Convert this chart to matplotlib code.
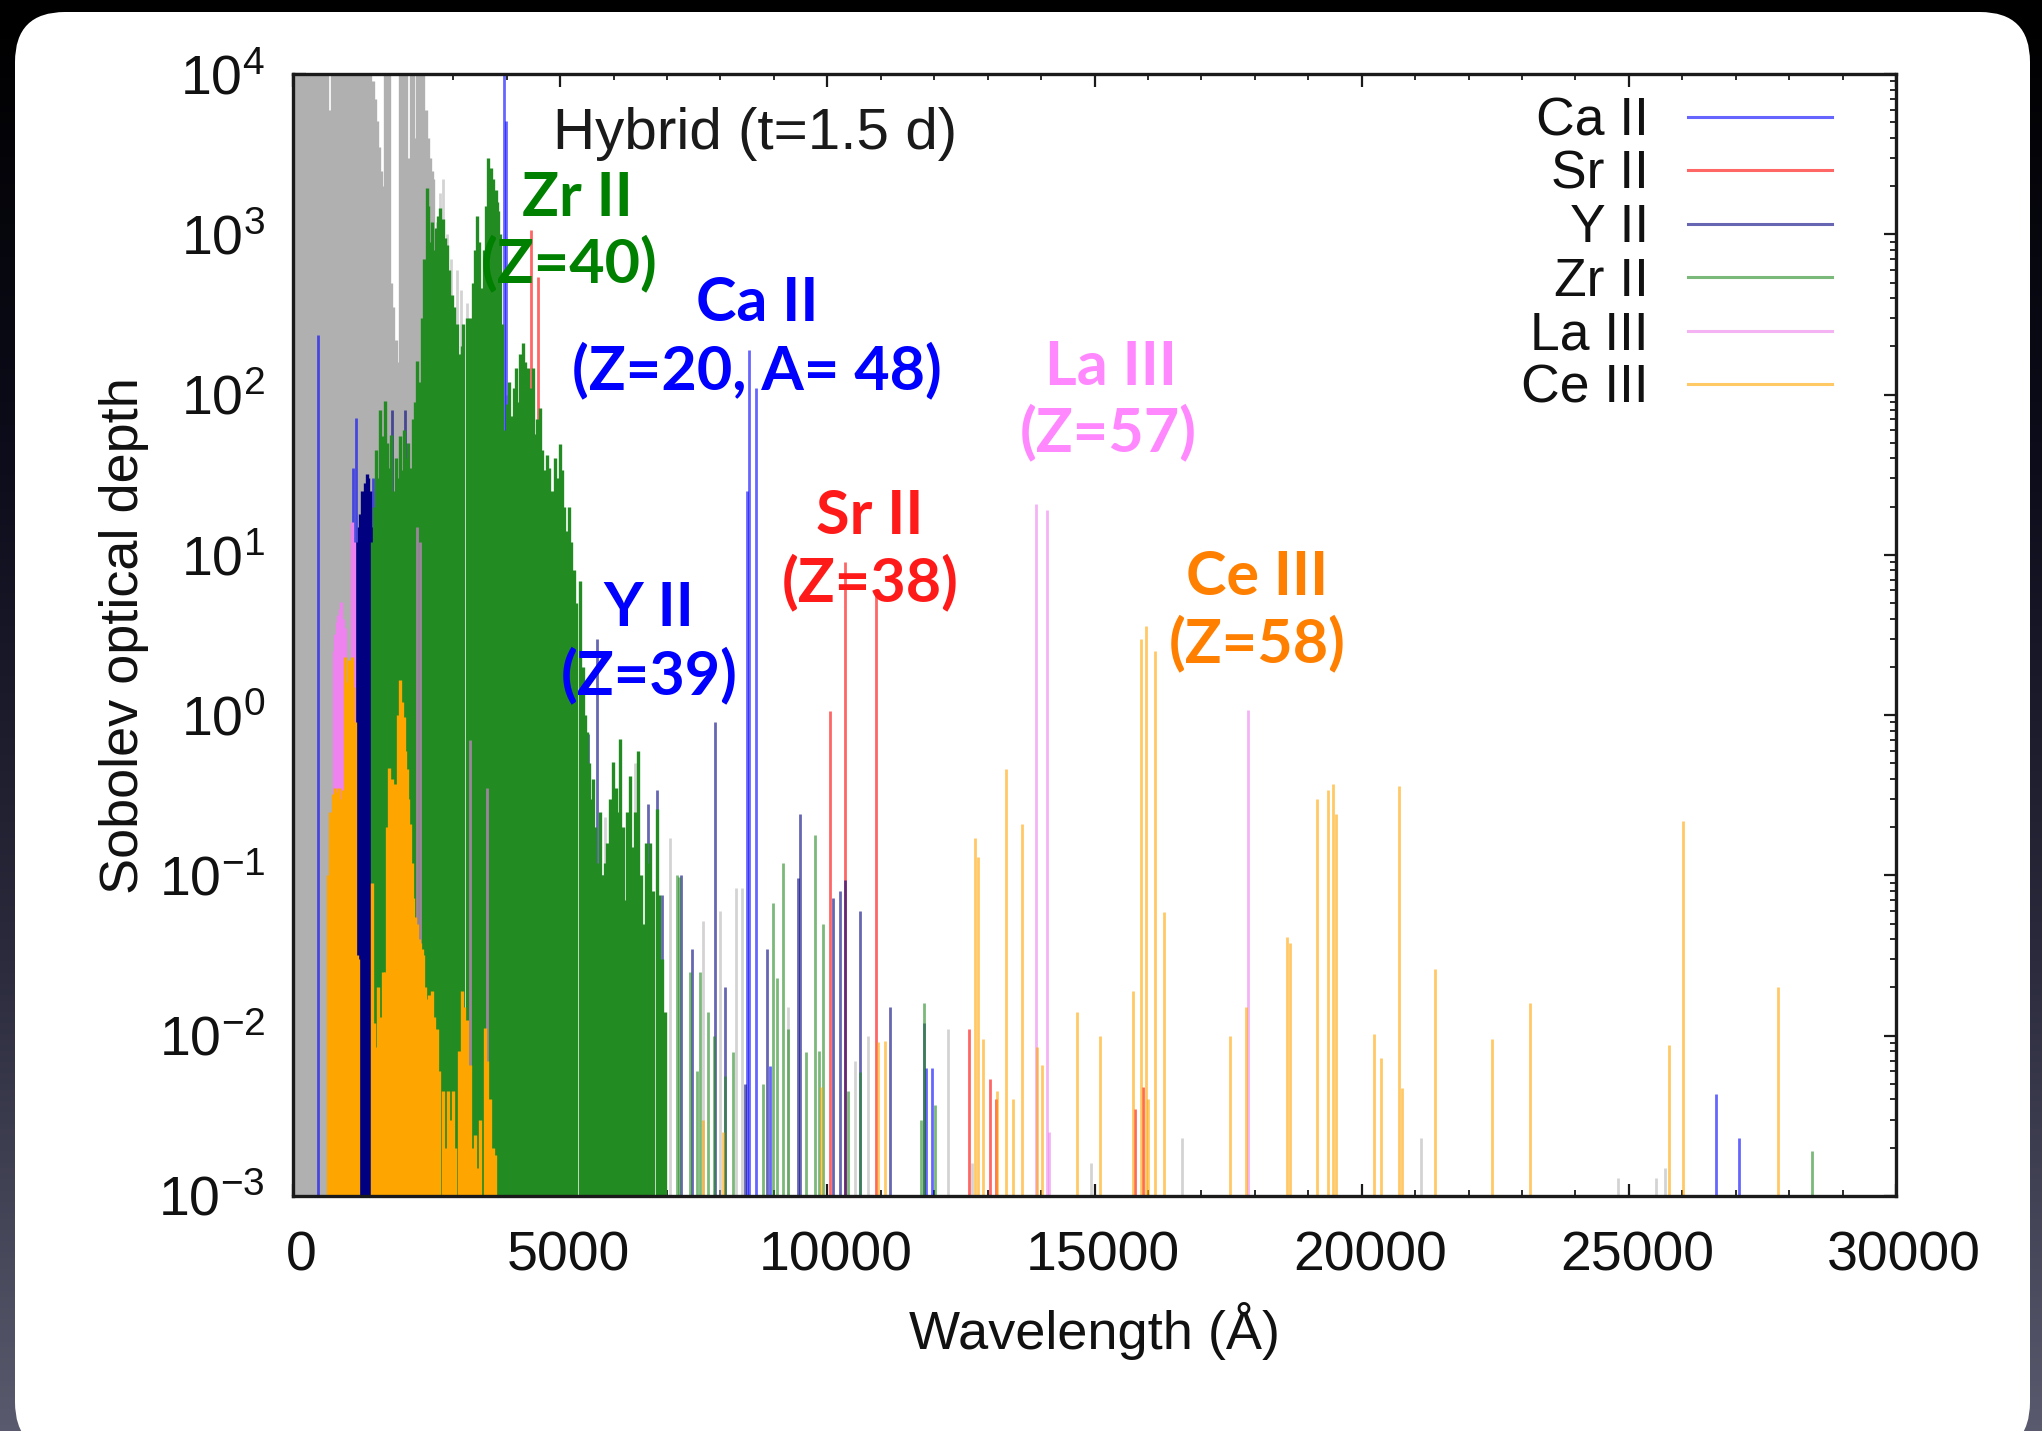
import matplotlib
matplotlib.use('Agg')
import matplotlib.pyplot as plt
import numpy as np
from matplotlib.patches import FancyBboxPatch
from matplotlib.lines import Line2D
from matplotlib.colors import LinearSegmentedColormap
from matplotlib.ticker import MultipleLocator, LogLocator, NullFormatter
from matplotlib.transforms import ScaledTranslation

plt.rcParams['font.family'] = ['Liberation Sans', 'DejaVu Sans']
plt.rcParams['mathtext.fontset'] = 'custom'
plt.rcParams['mathtext.rm'] = 'Liberation Sans'
plt.rcParams['mathtext.it'] = 'Liberation Sans:italic'
plt.rcParams['mathtext.bf'] = 'Liberation Sans:bold'

# ---------------- data (wavelength [A], Sobolev optical depth) ----------------
TAU_MIN = 1e-3

others_dense = [(20, 2e4), (60, 2e4), (100, 2e4), (140, 2e4), (180, 2e4), (220, 2e4), (260, 2e4),
                (290, 790), (320, 2e4), (360, 2e4), (400, 2e4), (440, 2e4), (480, 2e4), (520, 2e4),
                (560, 2e4), (600, 2e4), (640, 2e4), (690, 6000), (730, 2e4), (770, 2e4), (810, 2e4),
                (850, 2e4), (890, 2e4), (930, 2e4), (970, 2e4), (1010, 2e4), (1050, 2e4), (1090, 2e4),
                (1130, 2e4), (1170, 2e4), (1200, 2e4), (1223, 540), (1250, 2e4), (1290, 2e4), (1330, 2e4),
                (1370, 2e4), (1410, 2e4), (1450, 2e4), (1490, 9000), (1530, 7000), (1566, 5100),
                (1610, 3500), (1650, 2500), (1691, 2000), (1730, 2e4), (1770, 2e4), (1800, 2e4),
                (1840, 500), (1880, 350), (1920, 220), (1960, 160), (2003, 2e4), (2040, 2e4), (2080, 2e4),
                (2120, 2e4), (2160, 3000), (2200, 2e4), (2240, 2e4), (2285, 4000), (2320, 2e4), (2360, 2e4),
                (2400, 2e4), (2440, 2e4), (2480, 6000), (2520, 4000), (2565, 3000), (2600, 2500), (2627, 2200)]
others_sparse = [(2690, 1200), (2750, 1800), (2815, 2200), (2880, 1000), (2950, 700), (3060, 600),
                 (3150, 450), (3250, 370), (3350, 250), (3450, 200), (3560, 300), (3700, 150), (3850, 200),
                 (4000, 100), (4200, 60), (4450, 40), (4700, 20), (5000, 8), (5840, 0.23), (6400, 0.5),
                 (7055, 0.17), (7680, 0.052), (7990, 0.06), (8300, 0.083), (8400, 0.083), (9270, 0.015),
                 (10520, 0.007), (10770, 0.01), (12260, 0.011), (12700, 0.0016), (14938, 0.0016),
                 (16640, 0.0023), (21118, 0.0023), (24800, 0.0013), (25500, 0.0013), (25675, 0.0015)]

ca2_lines = [(460, 234), (1130, 35), (1180, 71), (1490, 30), (1560, 32), (3950, 2e4), (3990, 5100),
             (8498, 25), (8542, 190), (8662, 110), (8920, 0.0065), (11840, 0.0063), (11955, 0.0063),
             (26630, 0.0043), (27060, 0.0023)]

sr2_lines = [(2000, 3.7), (4450, 1070), (4593, 540), (10050, 1.06), (10330, 9.0), (10920, 6.0),
             (12648, 0.011), (13053, 0.0054), (13150, 0.004), (15757, 0.0035), (15913, 0.0048)]

y2_dense = [(1170, 9), (1200, 12), (1230, 15), (1260, 18), (1290, 25), (1320, 20), (1350, 28),
            (1380, 32), (1410, 30), (1440, 25), (1465, 15)]
y2_sparse = [(1847, 80), (2097, 80), (3600, 30), (3780, 50), (4050, 60), (4375, 40), (4680, 20),
             (4935, 14), (5060, 8.7), (5215, 6.7), (5527, 0.76), (5682, 3.0), (5740, 0.19), (5800, 0.1),
             (6650, 0.28), (6805, 0.34), (6900, 0.075), (7270, 0.1), (7460, 0.035), (7900, 0.91),
             (8085, 0.02), (8460, 0.005), (8865, 0.035), (9460, 0.096), (9490, 0.24), (10110, 0.072),
             (10240, 0.08), (10330, 0.093), (10610, 0.06), (11170, 0.015), (11812, 0.012)]

zr2_dense = [(1480, 12), (1520, 20), (1560, 45), (1600, 30), (1630, 80), (1670, 55), (1720, 91),
             (1760, 50), (1800, 35), (1840, 56), (1880, 25), (1920, 40), (1960, 30), (2000, 55),
             (2040, 34), (2080, 60), (2120, 40), (2160, 50), (2200, 35), (2240, 70), (2280, 90),
             (2315, 162), (2360, 120), (2410, 300), (2460, 700), (2500, 1950), (2530, 1500), (2565, 900),
             (2600, 1200), (2640, 800), (2680, 1100), (2720, 1300), (2750, 1450), (2790, 1000),
             (2815, 1240), (2850, 950), (2880, 860), (2920, 600), (2970, 420), (3020, 350), (3065, 275),
             (3100, 180), (3130, 96), (3160, 200), (3190, 275), (3250, 300), (3290, 220), (3315, 300),
             (3360, 500), (3400, 800), (3440, 1300), (3480, 900), (3530, 460), (3570, 800), (3610, 1500),
             (3657, 3000), (3700, 2600), (3750, 2200), (3790, 1900), (3820, 1600), (3845, 1400),
             (3880, 1000), (3906, 275), (3940, 60), (3970, 45), (4010, 87), (4050, 120), (4090, 74),
             (4130, 110), (4170, 146), (4210, 90), (4250, 180), (4312, 210), (4350, 160), (4400, 146),
             (4450, 110), (4487, 146), (4530, 57), (4570, 70), (4625, 82), (4660, 45), (4700, 34),
             (4750, 42), (4800, 35), (4850, 25), (4900, 40), (4950, 30), (5000, 49), (5040, 34),
             (5080, 20), (5120, 14), (5160, 20), (5200, 12), (5250, 8), (5300, 5), (5370, 6.9),
             (5420, 2.0), (5460, 1.0), (5500, 0.78), (5540, 0.5), (5580, 0.3), (5620, 0.4), (5660, 0.2),
             (5700, 0.12), (5740, 0.25), (5780, 0.1), (5830, 0.12), (5880, 0.16), (5930, 0.3),
             (5995, 0.51), (6040, 0.35), (6080, 0.25), (6120, 0.71), (6170, 0.2), (6213, 0.07),
             (6260, 0.25), (6306, 0.42), (6350, 0.15), (6400, 0.25), (6463, 0.6), (6510, 0.1),
             (6560, 0.05), (6600, 0.16), (6640, 0.12), (6681, 0.16), (6740, 0.08), (6806, 0.26),
             (6850, 0.075), (6900, 0.03), (6961, 0.014)]
zr2_sparse = [(7180, 0.1), (7230, 0.098), (7430, 0.025), (7560, 0.006), (7620, 0.025), (7770, 0.014),
              (7870, 0.01), (8085, 0.0056), (8240, 0.0079), (8800, 0.005), (8990, 0.067), (9050, 0.023),
              (9175, 0.12), (9270, 0.011), (9610, 0.0079), (9770, 0.18), (9840, 0.008), (9925, 0.05),
              (10390, 0.0045), (10610, 0.0059), (11750, 0.003), (11812, 0.016), (12010, 0.0037),
              (28420, 0.0019)]

la3_dense = [(760, 2.5), (790, 3.2), (820, 3.8), (850, 4.2), (880, 4.6), (905, 5.1), (935, 4.0),
             (965, 3.5), (1110, 16), (1140, 12)]
la3_sparse = [(2320, 15), (2370, 12), (3310, 0.7), (3626, 0.35), (13903, 20.7), (14116, 19),
              (14140, 0.0025), (17877, 1.07)]

ce3_dense = [(660, 0.1), (700, 0.25), (740, 0.32), (780, 0.35), (820, 0.33), (860, 0.35), (900, 0.3),
             (940, 0.34), (980, 2.3), (1010, 1.6), (1040, 2.2), (1070, 2.0), (1100, 2.3), (1130, 1.5),
             (1160, 0.9), (1190, 0.032), (1220, 0.03), (1470, 0.09), (1510, 0.012), (1560, 0.0085),
             (1600, 0.02), (1630, 0.013), (1680, 0.025), (1722, 0.025), (1760, 0.2), (1800, 0.47),
             (1830, 0.35), (1860, 0.4), (1900, 0.37), (1940, 0.36), (1970, 1.0), (2003, 1.66),
             (2040, 1.2), (2070, 0.98), (2100, 0.6), (2130, 0.46), (2160, 0.3), (2190, 0.21),
             (2220, 0.12), (2253, 0.072), (2290, 0.055), (2315, 0.05), (2350, 0.04), (2378, 0.038),
             (2410, 0.035), (2440, 0.032), (2470, 0.02), (2502, 0.017), (2550, 0.018), (2596, 0.019),
             (2640, 0.013), (2690, 0.011), (2740, 0.006), (2814, 0.0045), (2860, 0.002), (2910, 0.0045),
             (2960, 0.003), (3002, 0.0045), (3040, 0.002), (3100, 0.008), (3158, 0.019), (3200, 0.015),
             (3251, 0.0126), (3314, 0.0066), (3360, 0.002), (3407, 0.0024), (3450, 0.0015),
             (3500, 0.003), (3594, 0.0112), (3640, 0.007), (3688, 0.004), (3740, 0.002), (3782, 0.0018)]
ce3_sparse = [(7680, 0.003), (8050, 0.0025), (9890, 0.0048), (10950, 0.0092), (11078, 0.0093),
              (12762, 0.17), (12825, 0.13), (12918, 0.0096), (13168, 0.0045), (13351, 0.46),
              (13480, 0.004), (13636, 0.21), (13917, 0.0085), (14010, 0.0066), (14666, 0.014),
              (15110, 0.01), (15726, 0.019), (15864, 3.0), (15964, 3.6), (16010, 0.004), (16139, 2.5),
              (16300, 0.059), (17536, 0.01), (17836, 0.015), (18597, 0.041), (18650, 0.038),
              (19158, 0.30), (19377, 0.34), (19470, 0.37), (19520, 0.24), (20223, 0.0102),
              (20366, 0.0073), (20700, 0.36), (20760, 0.0047), (21380, 0.026), (22430, 0.0095),
              (23150, 0.016), (25760, 0.0087), (26020, 0.22), (27790, 0.02)]

legend_labels = ['Ca II', 'Sr II', 'Y II', 'Zr II', 'La III', 'Ce III']
legend_colors = ['#0000ff', '#ff0000', '#000080', '#228b22', '#ee82ee', '#ffa500']
others_color = '#b0b0b0'

annotations = [('Zr II', '(Z=40)', '#008000', 0.1772, 0.8895, 0.1722, 0.8316),
               ('Ca II', '(Z=20, A= 48)', '#0000ff', 0.2895, 0.7959, 0.2895, 0.7362),
               ('La III', '(Z=57)', '#ff88ff', 0.5103, 0.7389, 0.5084, 0.6809),
               ('Sr II', '(Z=38)', '#ff1a1a', 0.3600, 0.6061, 0.3600, 0.5472),
               ('Y II', '(Z=39)', '#0000ff', 0.2221, 0.5241, 0.2221, 0.4643),
               ('Ce III', '(Z=58)', '#ff7f00', 0.6014, 0.5517, 0.6014, 0.4929)]

# ---------------- figure & background ----------------
W, H = 2042, 1431
fig = plt.figure(figsize=(W / 100, H / 100), dpi=100)
bg = fig.add_axes([0, 0, 1, 1])
bg.set_xlim(0, W)
bg.set_ylim(H, 0)
bg.axis('off')
grad = np.linspace(0, 1, 256).reshape(-1, 1)
cmap = LinearSegmentedColormap.from_list('bgc', ['#000000', '#0d0d1c', '#2a2a3c', '#5a5a6e'])
bg.imshow(grad, cmap=cmap, extent=(0, W, H, 0), aspect='auto')
bg.add_patch(FancyBboxPatch((15, 12), 2015, 1440, boxstyle='round,pad=0,rounding_size=50',
                            fc='white', ec='none'))

ax = fig.add_axes([293 / W, 1 - 1196 / H, 1603 / W, 1122 / H])
ax.set_facecolor('white')
ax.set_yscale('log')
ax.set_xlim(0, 30000)
ax.set_ylim(TAU_MIN, 1e4)


def draw(lines, color, alpha, lw):
    wl = [p[0] for p in lines]
    tau = [p[1] for p in lines]
    ax.vlines(wl, TAU_MIN, tau, colors=color, alpha=alpha, linewidth=lw, capstyle='butt')


LW_D, LW_S = 2.4, 2.0
draw(others_dense, others_color, 1.0, LW_D)
draw(others_sparse, others_color, 0.55, LW_S)
draw(ca2_lines, legend_colors[0], 0.6, LW_S)
draw(sr2_lines, legend_colors[1], 0.6, LW_S)
draw(y2_dense, legend_colors[2], 1.0, LW_D)
draw(y2_sparse, legend_colors[2], 0.6, LW_S)
draw(zr2_dense, legend_colors[3], 1.0, LW_D)
draw(zr2_sparse, legend_colors[3], 0.6, LW_S)
draw(la3_dense, legend_colors[4], 1.0, LW_D)
draw(la3_sparse, legend_colors[4], 0.6, LW_S)
draw(ce3_dense, legend_colors[5], 1.0, LW_D)
draw(ce3_sparse, legend_colors[5], 0.6, LW_S)

# ---------------- axes styling ----------------
for sp in ax.spines.values():
    sp.set_linewidth(2.4)
    sp.set_color('#1a1a1a')
ax.xaxis.set_major_locator(MultipleLocator(5000))
ax.xaxis.set_minor_locator(MultipleLocator(1000))
ax.yaxis.set_major_locator(LogLocator(base=10, numticks=20))
ax.yaxis.set_minor_locator(LogLocator(base=10, subs=np.arange(2, 10), numticks=20))
ax.yaxis.set_minor_formatter(NullFormatter())
ax.tick_params(which='both', direction='in', top=True, right=True, colors='#1a1a1a', labelcolor='#111111')
ax.tick_params(which='major', length=9, width=1.6, labelsize=40)
ax.tick_params(which='minor', length=4.5, width=1.3)
ax.tick_params(axis='x', which='major', pad=25)
ax.tick_params(axis='y', which='major', pad=20)

# small rightward shift of x tick labels, as in the original rendering
offset = ScaledTranslation(8 / 100, 0, fig.dpi_scale_trans)
for lab in ax.get_xticklabels():
    lab.set_transform(lab.get_transform() + offset)

ax.set_xlabel('Wavelength (Å)', fontsize=39, color='#111111')
ax.set_ylabel('Sobolev optical depth', fontsize=39, color='#111111')
ax.xaxis.label.set_va('center')
ax.yaxis.label.set_va('center')
ax.xaxis.set_label_coords(0.5, -0.1203)
ax.yaxis.set_label_coords(-0.1054, 0.4996)

ax.text(0.1625, 0.9465, 'Hybrid (t=1.5 d)', transform=ax.transAxes, fontsize=42,
        color='#1a1a1a', ha='left', va='center')

handles = [Line2D([], [], color=c, alpha=0.6, lw=2.2) for c in legend_colors]
leg = ax.legend(handles, legend_labels, loc='upper right', bbox_to_anchor=(0.960, 0.980),
                frameon=False, markerfirst=False, handlelength=2.7, handletextpad=0.72,
                labelspacing=0.065, borderpad=0, borderaxespad=0, fontsize=38.5)
for t in leg.get_texts():
    t.set_color('#111111')

for l1, l2, col, x1, y1, x2, y2 in annotations:
    for s, xx, yy in ((l1, x1, y1), (l2, x2, y2)):
        ax.text(xx, yy, s, transform=ax.transAxes, color=col, fontsize=44,
                fontfamily=['Lato', 'DejaVu Sans'], fontweight='bold', ha='center', va='center')

fig.savefig('out.png', dpi=100)
